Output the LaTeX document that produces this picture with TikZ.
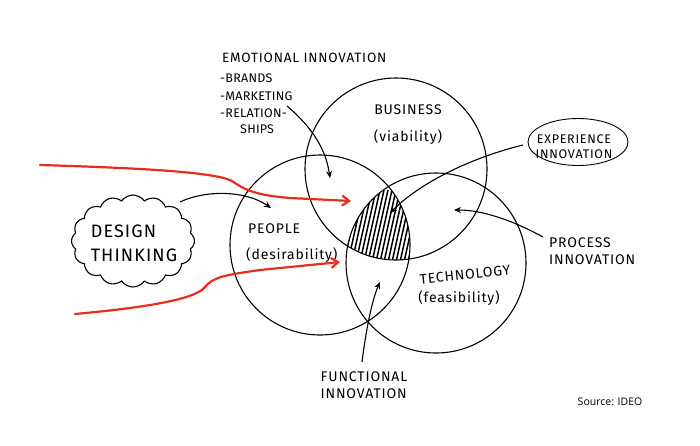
\documentclass[tikz,border=0pt]{standalone}
\usepackage{fontspec}
\setmainfont{Fira Sans}
\newfontfamily\srcfont{Open Sans}
\newfontfamily\handfont[LetterSpace=6]{Fira Sans}
\newfontfamily\handnarrow[LetterSpace=2]{Fira Sans}
\usetikzlibrary{shapes.symbols,shapes.geometric,arrows.meta}
\definecolor{pred}{RGB}{232,45,28}
\begin{document}
\begin{tikzpicture}[x=1pt,y=-1pt,
  ring/.style={circle,draw=black,line width=1.1pt,inner sep=0pt},
  pen/.style={draw=black,line width=1.1pt,-{Stealth[length=7pt,width=6pt]}},
  redpen/.style={draw=pred,line width=2.2pt,line cap=round,-{Straight Barb[length=7pt,width=10pt,line width=2.2pt]}},
  lbl/.style={font=\handfont\fontsize{14}{17}\selectfont,inner sep=0pt},
  sml/.style={font=\handfont\fontsize{12.5}{15}\selectfont,inner sep=0pt},
  lst/.style={font=\handnarrow\fontsize{12.5}{15}\selectfont,inner sep=0pt},
  big/.style={font=\handfont\fontsize{18}{24}\selectfont,inner sep=0pt,align=left}]
\useasboundingbox (0,0) rectangle (700,445);
\fill[white] (0,0) rectangle (700,445);

% circles
\node[ring,minimum size=182pt] (bus) at (396,169) {};
\node[ring,minimum size=180pt] (peo) at (320,245) {};
\node[ring,minimum size=180pt] (tec) at (436,263) {};

% hatching of the triple intersection
\begin{scope}
  \clip (396,169) circle (91pt);
  \clip (320,245) circle (90pt);
  \clip (436,263) circle (90pt);
  \foreach \i in {0,...,18}
    \draw[line width=1.5pt] (336+\i*4,262) -- (352+\i*4,190);
\end{scope}

% labels in circles
\node[lbl] (busl) at (408,110) {BUSINESS};
\node[lbl] (busv) at (408,137) {(viability)};
\node[lbl,anchor=west] (peol) at (248,229) {PEOPLE};
\node[lbl,anchor=west] (peod) at (246,255) {(desirability)};
\node[lbl,rotate=6] (tecl) at (465,275) {TECHNOLOGY};
\node[lbl] (tecf) at (459,298) {(feasibility)};

% emotional innovation
\node[lbl,font=\handfont\fontsize{13.5}{16}\selectfont,anchor=west] (emo) at (222,58) {EMOTIONAL INNOVATION};
\node[lst,anchor=west] (em1) at (220,78) {-BRANDS};
\node[lst,anchor=west] (em2) at (220,96) {-MARKETING};
\node[lst,anchor=west] (em3) at (220,113) {-RELATION-};
\node[lst,anchor=west] (em4) at (240,129) {SHIPS};

% experience innovation
\node[ellipse,draw,line width=0.9pt,minimum width=100pt,minimum height=47pt,inner sep=0pt] (exp) at (578,142) {};
\node[sml,align=center] (expl) at (574,147) {EXPERIENCE\\INNOVATION};

% process innovation
\node[lbl,anchor=west,align=left] (pro) at (549,251) {PROCESS\\INNOVATION};

% functional innovation
\node[lbl,align=left] (fun) at (364,385) {FUNCTIONAL\\INNOVATION};

% design thinking cloud
\node[cloud,draw,line width=1.1pt,cloud puffs=16,cloud puff arc=110,aspect=1.35,
      minimum width=123pt,minimum height=92pt,inner sep=0pt] (dt) at (133,241) {};
\node[big] (dtl) at (134,243) {DESIGN\\THINKING};

% source
\node[font=\srcfont\fontsize{10.5}{12}\selectfont,inner sep=0pt] (src) at (610,402) {Source: IDEO};

% connector end points
\coordinate (emoS) at (287,106);
\coordinate (emoE) at (330,178);
\coordinate (expS) at (523,145);
\coordinate (expE) at (390,213);
\coordinate (proS) at (543,237);
\coordinate (proE) at (454,210);
\coordinate (funS) at (362,362);
\coordinate (funE) at (380,282);
\coordinate (dtS) at (180,202);
\coordinate (dtE) at (271,208);
\coordinate (r1S) at (40,165);
\coordinate (r1E) at (351,201);
\coordinate (r2S) at (75,314);
\coordinate (r2E) at (340,262);

% black connectors
\draw[pen] (emoS) .. controls (313,128) and (326,150) .. (emoE);
\draw[pen] (expS) .. controls (470,158) and (420,183) .. (expE);
\draw[pen] (proS) .. controls (512,220) and (482,210) .. (proE);
\draw[pen] (funS) .. controls (366,330) and (372,300) .. (funE);
\draw[pen] (dtS) .. controls (205,190) and (245,190) .. (dtE);

% red connectors
\draw[redpen] (r1S) .. controls (140,168) and (215,172) .. (232,181)
  .. controls (245,190) and (255,195) .. (290,198) -- (r1E);
\draw[redpen] (r2S) .. controls (140,308) and (195,300) .. (205,287)
  .. controls (213,277) and (225,275) .. (260,270) -- (r2E);
\end{tikzpicture}
\end{document}
